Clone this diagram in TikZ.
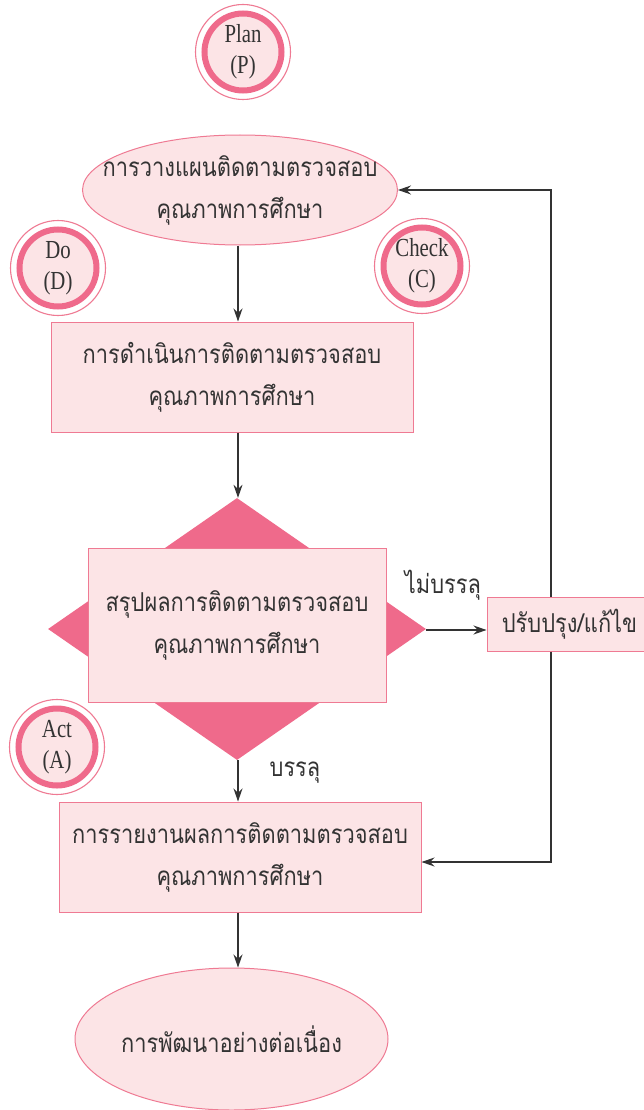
\documentclass[tikz,border=0pt]{standalone}
\usepackage{fontspec}
\setmainfont{Liberation Serif}[FakeStretch=0.8]
\newfontfamily\thaifont[Script=Thai, FakeStretch=0.84]{Loma}
\usetikzlibrary{arrows.meta}
\usetikzlibrary{positioning,shapes.geometric}
\definecolor{pinkfill}{HTML}{FCE4E6}
\definecolor{pinkline}{HTML}{EF7A93}
\definecolor{pinkdark}{HTML}{EF6A8B}
\definecolor{arrowgray}{HTML}{333333}

\begin{document}
\begin{tikzpicture}[>={Stealth[length=13pt, width=9pt]}, x=1pt, y=-1pt,
    thai/.style={font=\thaifont\fontsize{26}{42}\selectfont, text=black!80},
    block/.style={thai, draw=pinkline, fill=pinkfill, line width=1pt, align=center},
    oval/.style={block, ellipse, inner xsep=-30pt, inner ysep=-5pt},
    badge/.style={circle, draw=pinkdark, fill=pinkfill, line width=6pt, minimum size=77pt,
        inner sep=0pt, align=center, font=\fontsize{26}{31}\selectfont, text=black!80},
    flow/.style={->, draw=arrowgray, line width=1.1pt}]

    \useasboundingbox (0,0) rectangle (643,1110);

    % main column
    \node[oval, minimum width=315pt, minimum height=110pt] (planbox) at (240,190) {การวางแผนติดตามตรวจสอบ\\คุณภาพการศึกษา};
    \node[block, minimum width=362pt, minimum height=110pt] (dobox) at (232,377) {การดำเนินการติดตามตรวจสอบ\\คุณภาพการศึกษา};
    \node[diamond, fill=pinkdark, minimum width=378pt, minimum height=262pt, inner sep=0pt] (decide) at (237,629) {};
    \node[block, minimum width=298pt, minimum height=154pt] (checkbox) at (237,625) {สรุปผลการติดตามตรวจสอบ\\คุณภาพการศึกษา};
    \node[block, minimum width=165pt, minimum height=54pt] (fixbox) at (569.5,624) {ปรับปรุง/แก้ไข};
    \node[block, minimum width=362pt, minimum height=110pt] (reportbox) at (240,857) {การรายงานผลการติดตามตรวจสอบ\\คุณภาพการศึกษา};
    \node[oval, minimum width=313pt, minimum height=142pt] (devbox) at (231.5,1039) {การพัฒนาอย่างต่อเนื่อง};

    % PDCA badges
    \foreach \nm/\x/\y/\ttl/\ab in {P/243/52/Plan/P, D/58/268/Do/D, C/422/266/Check/C, A/57/747/Act/A}{
        \draw[pinkline, fill=white, line width=1.1pt] (\x,\y) circle (47.5pt);
        \node[badge] (badge\nm) at (\x,\y) {\ttl\\(\ab)};
    }

    % connectors
    \coordinate (spine) at (238,0);
    \draw[flow] (planbox.south -| spine) -- (dobox.north -| spine);
    \draw[flow] (dobox.south -| spine) -- (decide.north -| spine);
    \draw[flow] (decide.south -| spine) -- (reportbox.north -| spine);
    \draw[flow] (reportbox.south -| spine) -- (devbox.north -| spine);
    \draw[flow] (decide.east) ++(0,1) coordinate (noout) -- (noout -| fixbox.west);

    \coordinate (loopup) at (551,190);
    \coordinate (loopdown) at (551,862);
    \draw[flow] (fixbox.north -| loopup) -- (loopup) -- (planbox.east);
    \draw[flow] (fixbox.south -| loopdown) -- (loopdown) -- (loopdown -| reportbox.east);

    % branch labels
    \node[thai] (nolabel) at (443,585) {ไม่บรรลุ};
    \node[thai] (yeslabel) at (295,773) {บรรลุ};

\end{tikzpicture}
\end{document}
